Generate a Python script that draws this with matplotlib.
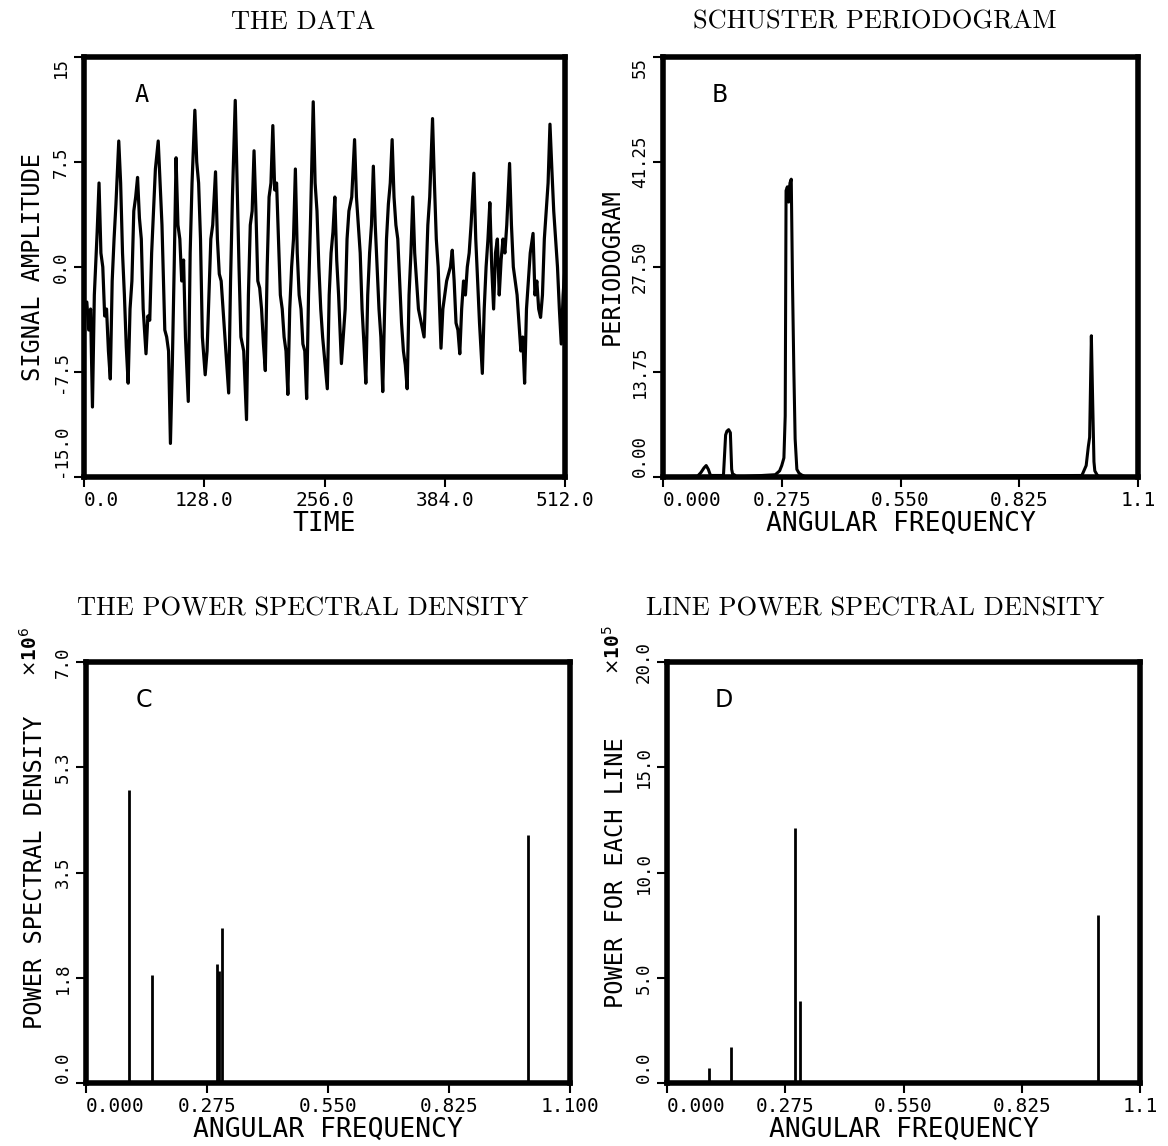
"""Four-panel spectral analysis figure: data, Schuster periodogram, PSD, line PSD
"""
import matplotlib
matplotlib.use("Agg")
import matplotlib.pyplot as plt
import numpy as np

# panel A: signal (time, amplitude)
time = [0, 3, 5, 7, 9, 11, 13, 14, 16, 18, 20, 22, 24, 26, 28, 30, 32, 34, 37, 39,
        41, 43, 45, 47, 49, 51, 53, 55, 57, 59, 61, 63, 66, 68, 70, 72, 74, 76, 79, 81,
        83, 86, 88, 90, 92, 94, 96, 98, 100, 102, 104, 106, 108, 111, 113, 115, 118, 120, 122, 124,
        126, 129, 131, 133, 135, 137, 140, 142, 144, 146, 148, 151, 154, 156, 158, 161, 163, 165, 167, 170,
        173, 175, 177, 179, 181, 183, 185, 187, 189, 191, 193, 195, 197, 199, 201, 203, 205, 207, 209, 211,
        213, 215, 217, 219, 221, 223, 225, 227, 229, 231, 233, 235, 237, 239, 241, 242, 244, 246, 248, 250,
        252, 254, 256, 259, 261, 263, 265, 267, 269, 271, 274, 276, 278, 280, 282, 285, 288, 290, 292, 294,
        296, 298, 300, 302, 304, 306, 308, 310, 312, 314, 316, 318, 320, 322, 324, 326, 328, 330, 332, 334,
        336, 338, 340, 342, 344, 346, 348, 350, 352, 354, 356, 359, 362, 364, 366, 368, 371, 373, 375, 377,
        380, 382, 384, 386, 388, 390, 392, 394, 396, 398, 400, 402, 404, 406, 408, 410, 412, 415, 417, 419,
        421, 424, 426, 428, 430, 432, 434, 436, 438, 440, 442, 444, 446, 448, 450, 453, 455, 457, 459, 461,
        463, 465, 467, 469, 471, 473, 475, 478, 480, 482, 484, 486, 488, 490, 492, 494, 496, 498, 500, 502,
        504, 506, 508, 510, 512]
signal = [-3.5, -2.5, -4.5, -3, -10, -2, 1, 2.5, 6, 1, 0, -3.5, -3, -6, -8, -1, 2, 4.5, 9, 6,
          1, -2, -5.7, -8.3, -3, -1, 4, 5, 6.4, 3.5, 2, -3, -6.2, -3.5, -3.8, 1, 4, 7, 9, 6,
          3, -4.5, -5, -6, -12.6, -7, 0, 7.8, 3, 2, -1, 0.5, -5, -9.6, 1, 6, 11.2, 7.5, 6, 2,
          -5, -7.7, -6, -2, 2, 3, 6.8, 2, -0.5, -1, -3, -6, -9, -1, 5, 11.9, 6, 0, -5, -6,
          -10.9, -2, 3, 4, 8.3, 4, -1, -1.5, -3, -5.5, -7.4, 0, 5, 6, 10.1, 5.5, 6, 2, -2, -3,
          -5, -6, -9.1, -3, 0, 2, 7, 1, -2, -3, -5.5, -6, -9.4, -2, 3, 6, 11.8, 6, 4, 0,
          -3, -5, -6.5, -8.7, -2, 1, 2.5, 5, 0.5, -2, -6.9, -5, -3, 2, 4, 5, 9.1, 5, 3, 1,
          -3, -5.5, -8.3, -2, 1, 3, 7.2, 3, 0, -3, -5, -8.9, -3, 2, 4.5, 6, 9.1, 5, 3, 2,
          -1, -4, -6, -7, -8.7, -2, 1, 5, 1, -1, -3, -4, -5, -1, 3, 5, 10.6, 6, 2, 0,
          -5.8, -3, -2, -1, -0.5, 0, 1.2, -1, -4, -4.5, -6.2, -3, -1, -2, 0, 1, 3, 6.7, 2, -1,
          -4, -7.6, -3, 0, 2, 4.6, 0, -3, 1, 2, -2, 0.5, 2, 1, 3, 7.4, 3, 0, -1, -2,
          -4, -6, -5, -8.3, -3, -1, 1, 2.4, -2, -1, -3, -3.6, -2, 2, 4, 6, 10.2, 7, 4, 2,
          0, -3, -5.5, -2, 0]

# panel B: periodogram (angular frequency, value)
freq_b = [0.0, 0.08, 0.088, 0.095, 0.1, 0.105, 0.11, 0.14, 0.145, 0.148, 0.152, 0.156, 0.159,
          0.162, 0.165, 0.17, 0.26, 0.27, 0.275, 0.28, 0.283, 0.285, 0.288, 0.291, 0.294,
          0.297, 0.3, 0.303, 0.306, 0.31, 0.315, 0.32, 0.33, 0.97, 0.98, 0.985, 0.988,
          0.992, 0.995, 0.998, 1.0, 1.005, 1.01, 1.1]
perio_b = [0, 0.1, 0.6, 1.2, 1.5, 1.0, 0.2, 0.2, 5.5, 6.0, 6.2, 5.8, 1.0,
           0.2, 0.3, 0, 0.3, 0.8, 1.5, 2.5, 8, 37.5, 38, 36, 38.5,
           39, 25, 14, 5, 1, 0.5, 0.3, 0, 0.2, 1.5, 4, 5.2,
           18.5, 10, 2, 0.8, 0.3, 0, 0]

# panel C: power spectral density lines (x10^6)
freq_c = [0.098, 0.150, 0.297, 0.303, 0.310, 1.004]
psd_c = [4.87, 1.80, 1.98, 1.86, 2.57, 4.13]

# panel D: power for each line (x10^5)
freq_d = [0.097, 0.149, 0.298, 0.309, 1.002]
power_d = [0.71, 1.69, 12.1, 3.9, 7.97]

W, H = 1168, 1146
mono = "DejaVu Sans Mono"
title_font = "cmr10"


def px_axes(fig, l, t, r, b):
    return fig.add_axes([l / W, 1 - b / H, (r - l) / W, (b - t) / H])


def style(ax, xt, xl, yt, yl, xlabel, ylabel, top_va="center"):
    for s in ax.spines.values():
        s.set_linewidth(4.0)
    ax.set_xticks(xt)
    ax.set_xticklabels(xl, fontfamily=mono, fontsize=14)
    ax.set_yticks(yt)
    ax.set_yticklabels(yl, fontfamily=mono, fontsize=12.5, rotation=90, va="center")
    ax.tick_params(direction="out", length=7, width=1.5, pad=3)
    ax.get_xticklabels()[0].set_ha("left")
    ax.get_yticklabels()[0].set_va("bottom")
    ax.get_yticklabels()[-1].set_va(top_va)
    ax.set_xlabel(xlabel, fontfamily=mono, fontsize=19, labelpad=1)
    ax.set_ylabel(ylabel, fontfamily=mono, fontsize=17, labelpad=5)


fig = plt.figure(figsize=(W / 100, H / 100), dpi=100)

# A
ax = px_axes(fig, 84, 57, 565, 477)
ax.plot(time, signal, color="black", lw=2.3)
ax.set_xlim(0, 512)
ax.set_ylim(-15, 15)
style(ax, [0, 128, 256, 384, 512], ["0.0", "128.0", "256.0", "384.0", "512.0"],
      [-15, -7.5, 0, 7.5, 15], ["-15.0", "-7.5", "0.0", "7.5", "15"],
      "TIME", "SIGNAL AMPLITUDE", top_va="top")
ax.text(0.12, 0.91, "A", transform=ax.transAxes, fontfamily=mono, fontsize=17,
        ha="center", va="center")

fx = [0, 0.275, 0.55, 0.825, 1.1]

# B
ax = px_axes(fig, 663, 57, 1138, 477)
ax.plot(freq_b, perio_b, color="black", lw=2.2)
ax.set_xlim(0, 1.1)
ax.set_ylim(0, 55)
style(ax, fx, ["0.000", "0.275", "0.550", "0.825", "1.1"],
      [0, 13.75, 27.5, 41.25, 55], ["0.00", "13.75", "27.50", "41.25", "55"],
      "ANGULAR FREQUENCY", "PERIODOGRAM", top_va="top")
ax.text(0.12, 0.91, "B", transform=ax.transAxes, fontfamily="DejaVu Sans", fontsize=17,
        ha="center", va="center")

# C
ax = px_axes(fig, 86, 662, 570, 1083)
ax.vlines(freq_c, 0, psd_c, color="black", lw=2)
ax.set_xlim(0, 1.1)
ax.set_ylim(0, 7.0)
style(ax, fx, ["0.000", "0.275", "0.550", "0.825", "1.100"],
      [0, 1.75, 3.5, 5.25, 7.0], ["0.0", "1.8", "3.5", "5.3", "7.0"],
      "ANGULAR FREQUENCY", "POWER SPECTRAL DENSITY")
ax.text(0.12, 0.91, "C", transform=ax.transAxes, fontfamily="DejaVu Sans", fontsize=17,
        ha="center", va="center")
fig.text(30 / W, 1 - 652 / H, r"$\times$10$^6$", rotation=90, fontfamily=mono,
         fontsize=14, fontweight="bold", ha="center", va="center")

# D
ax = px_axes(fig, 667, 662, 1140, 1083)
ax.vlines(freq_d, 0, power_d, color="black", lw=2)
ax.set_xlim(0, 1.1)
ax.set_ylim(0, 20)
style(ax, fx, ["0.000", "0.275", "0.550", "0.825", "1.1"],
      [0, 5, 10, 15, 20], ["0.0", "5.0", "10.0", "15.0", "20.0"],
      "ANGULAR FREQUENCY", "POWER FOR EACH LINE")
ax.text(0.12, 0.91, "D", transform=ax.transAxes, fontfamily="DejaVu Sans", fontsize=17,
        ha="center", va="center")
fig.text(613 / W, 1 - 650 / H, r"$\times$10$^5$", rotation=90, fontfamily=mono,
         fontsize=14, fontweight="bold", ha="center", va="center")

# panel titles
for x, y, s in [(303, 22, "THE DATA"), (875, 22, "SCHUSTER PERIODOGRAM"),
                (303, 609, "THE POWER SPECTRAL DENSITY"),
                (875, 609, "LINE POWER SPECTRAL DENSITY")]:
    fig.text(x / W, 1 - y / H, s, fontfamily=title_font, fontsize=19,
             ha="center", va="center")

fig.savefig("out.png", dpi=100)
